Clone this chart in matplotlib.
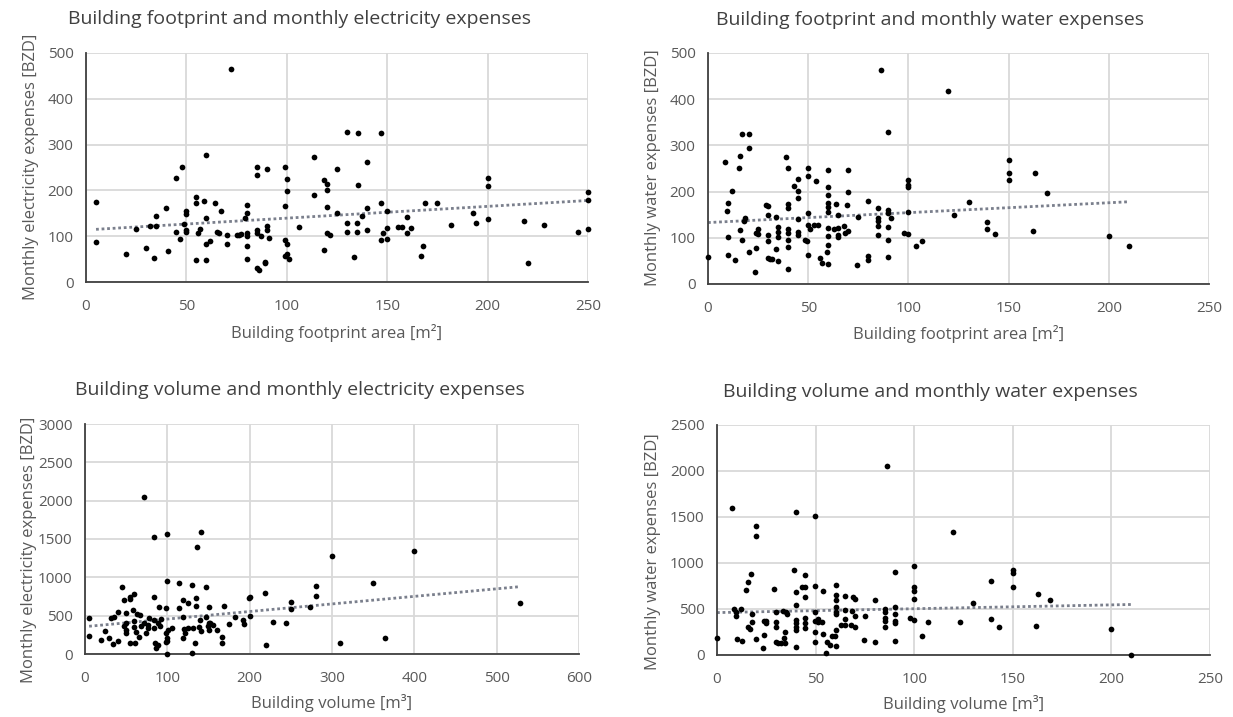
import numpy as np
import matplotlib
matplotlib.use("Agg")
import matplotlib.pyplot as plt

plt.rcParams['font.family'] = ['Open Sans', 'DejaVu Sans']

# Panel 1: footprint area vs electricity
fp_elec_x = [5, 5, 20, 25, 30, 32, 34, 35, 35, 40, 41, 45, 45, 47, 48, 49, 50, 50, 50, 50,
             55, 55, 55, 56, 57, 59, 60, 60, 60, 60, 62, 64, 65, 66, 67, 70, 70, 72, 75, 76,
             77, 79, 80, 80, 80, 80, 80, 80, 85, 85, 85, 85, 85, 86, 87, 89, 89, 90, 90, 90,
             91, 99, 99, 100, 100, 99, 100, 99, 100, 101, 106,
             113.5, 113.5, 118.5, 118.5, 120, 120, 120, 120, 121.5, 125, 125, 130, 130, 130,
             133.5, 135, 135, 135.5, 135.5, 137.5, 140, 140, 140, 147, 147, 147, 148, 150, 150,
             150, 155.5, 157.5, 160, 160, 162, 167, 168, 169, 175, 182, 192.5, 194, 200, 200,
             200, 218, 220, 228, 245, 250, 250, 250]
fp_elec_y = [175, 88, 61, 115, 75, 123, 53, 144, 123, 162, 68, 228, 110, 93, 251, 126, 155, 149, 114, 110,
             186, 172, 47, 108, 116, 177, 277, 139, 82, 47, 90, 173, 109, 106, 156, 103, 82, 464, 102, 103,
             104, 140, 168, 151, 106, 101, 79, 51, 251, 233, 113, 108, 31, 27, 100, 44, 41, 246, 122, 113,
             95, 251, 166, 225, 199, 91, 82, 57, 62, 50, 120,
             274, 191, 223, 70, 213, 201, 164, 108, 103, 246, 150, 328, 128, 110,
             55, 128, 110, 325, 212, 145, 263, 161, 114, 325, 173, 92, 108, 154, 117,
             93, 119, 120, 143, 106, 117, 57, 79, 172, 173, 124, 150, 128, 226, 210,
             137, 133, 42, 124, 110, 197, 178, 116]

# Panel 2: footprint area vs water
fp_wat_x = [0, 8.3, 9.3, 10, 10, 10, 12, 13.3, 15.3, 16, 16, 17, 17, 18, 18.3, 20.3, 20.3, 20.3, 23.4, 24,
            24, 25, 25, 29, 30, 30, 30, 30, 30, 30.7, 31.7, 34, 34, 35, 35, 35, 35, 39, 40, 40,
            40, 40, 40, 40, 40, 40, 43, 45, 45, 45, 45, 45, 45, 48.3, 49.5, 50, 50, 50, 50, 50,
            51, 53, 54, 55, 56, 57, 60, 60, 60, 60, 60, 60, 60, 60, 60, 59.5, 60, 63, 64, 65,
            65, 65, 65, 68, 68.5, 69.3, 70, 70, 70, 74.4, 75, 80, 80, 80, 85, 85, 85, 85, 85, 86.4,
            90, 90, 90, 90, 90, 90, 91.3, 98, 100, 100, 100, 100, 100, 104, 107, 120,
            123, 130, 139, 139, 143, 150, 150, 150, 162, 163, 169, 200, 210]
fp_wat_y = [58, 263, 158, 176, 101, 62, 201, 51, 252, 277, 116, 324, 95, 136, 142, 324, 294, 69, 27, 77,
            111, 120, 108, 172, 169, 149, 106, 93, 56, 54, 55, 145, 75, 49, 123, 113, 101, 274, 252, 174,
            165, 118, 111, 96, 80, 33, 212, 228, 201, 187, 140, 112, 106, 96, 93, 252, 234, 153, 128, 62,
            118, 128, 222, 128, 56, 46, 247, 211, 192, 176, 167, 156, 122, 103, 84, 70, 44, 118, 174, 150,
            107, 102, 122, 125, 111, 172, 247, 200, 114, 41, 145, 179, 60, 53, 165, 142, 137, 125, 107, 464,
            328, 161, 154, 124, 95, 58, 143, 111, 225, 214, 210, 155, 108, 82, 93, 418,
            150, 178, 135, 119, 109, 268, 241, 226, 114, 241, 198, 103, 83]

# Panel 3: volume vs electricity
vol_elec_x = [4.5, 4.5, 19.5, 24.7, 29.6, 31.6, 34, 35.3, 40, 40, 45.4, 47.5, 47.5, 50, 50, 50, 50, 54.8, 54.8, 54.8,
              60, 58, 61, 60, 60, 63, 62, 66, 67, 68.6, 71.8, 71.8, 74, 76, 77, 78, 84.4, 84.4, 84.4, 84.4,
              85, 86.4, 89, 89, 89.7, 92.9, 91, 99.4, 99.4, 98.6, 98.6, 99.4, 99.4, 98.6, 99.4, 100.6, 105.9, 114, 114, 118.9,
              118.9, 119.3, 120.5, 120.9, 125, 125, 129.8, 129.8, 131, 133, 135, 135, 136.3, 138.7, 139.6, 140.4, 140.4, 147.3, 147.3, 149.3,
              150, 150, 150, 152, 156, 160, 166.3, 166.3, 168.8, 174.4, 182, 192.3, 193, 199.2, 200.4, 200, 218.7, 220, 228.4, 244.6,
              250, 250, 273, 280, 280, 300, 309.3, 350, 364, 399.4, 528]
vol_elec_y = [470, 231, 178, 305, 213, 470, 135, 479, 170, 549, 875, 361, 710, 400, 531, 313, 279, 723, 740, 139,
              788, 570, 139, 357, 427, 518, 292, 226, 514, 361, 2046, 400, 279, 335, 379, 466, 1524, 749, 444, 335,
              139, 83, 118, 400, 610, 453, 366, 1559, 958, 601, 270, 205, 170, 152, 0, 313, 335, 923, 605, 705,
              205, 488, 322, 279, 662, 335, 906, 9, 335, 139, 627, 727, 1402, 348, 444, 1585, 305, 875, 488, 366,
              610, 313, 400, 400, 379, 313, 226, 148, 631, 396, 479, 440, 396, 727, 740, 501, 801, 118, 414, 405,
              683, 592, 618, 892, 762, 1284, 139, 927, 205, 1337, 662]

# Panel 4: volume vs water
vol_wat_x = [0, 7.8, 8.8, 9.8, 9.8, 10, 12, 12.9, 14.9, 15.7, 17.1, 15.7, 16.8, 18, 18, 20, 20, 20, 23.2, 23.7,
             23.9, 24.7, 25, 28.9, 30, 30, 30, 30, 31, 32.3, 33.5, 33.8, 34.5, 34.7, 34.9, 35.4, 39.3, 40, 40.2, 40.2,
             40.2, 40.2, 40.2, 40.2, 40, 43, 44.8, 44.8, 44.8, 44.8, 44.8, 44.8, 49.9, 49.9, 49.9, 49.9, 49.9, 49.9, 51, 51.1,
             53.1, 53.6, 53.8, 55.2, 56, 57.2, 58.4, 59.6, 60.1, 60.1, 60.1, 60.1, 60.1, 60.1, 60.1, 60.1, 62.9, 64.8, 64.8, 64.8,
             64.8, 67.9, 68.5, 69, 69.9, 69.9, 69.9, 75.1, 74.3, 80, 80, 85.1, 85.1, 85.1, 85.1, 85.1, 86.1, 90.2, 90.5, 90.5,
             90.5, 90.5, 90.2, 98.1, 99.8, 99.8, 99.8, 99.8, 99.8, 104.2, 107.1,
             119.9, 123.1, 129.7, 139, 139, 142.9, 150, 150, 150, 161.8, 163, 169.1, 199.8, 210]
vol_wat_y = [189, 1595, 501, 472, 425, 171, 501, 153, 709, 789, 879, 302, 280, 447, 356, 1406, 1290, 171, 73, 374,
             214, 374, 345, 716, 472, 363, 302, 145, 134, 134, 480, 189, 247, 134, 472, 447, 927, 687, 545, 381,
             345, 309, 272, 91, 1559, 738, 738, 872, 629, 400, 345, 291, 752, 1515, 472, 374, 247, 145, 396, 360,
             356, 698, 229, 25, 145, 109, 207, 207, 272, 756, 654, 600, 527, 472, 447, 102, 327, 636, 491, 392,
             327, 327, 480, 629, 607, 425, 302, 425, 164, 600, 145, 498, 472, 400, 371, 305, 2053, 898, 527, 447,
             374, 345, 153, 400, 963, 738, 698, 607, 381, 207, 360,
             1334, 360, 570, 803, 396, 305, 927, 890, 741, 316, 661, 596, 280, 0]

# Linear trendlines: (x_start, y_start, x_end, y_end)
trend_fp_elec = (5, 115, 250, 178)
trend_fp_wat = (0, 133, 210, 178)
trend_vol_elec = (5, 362, 528, 878)
trend_vol_wat = (0, 461, 210, 549)

titles = ["Building footprint and monthly electricity expenses",
          "Building footprint and monthly water expenses",
          "Building volume and monthly electricity expenses",
          "Building volume and monthly water expenses"]
xlabels = ["Building footprint area [m²]", "Building footprint area [m²]",
           "Building volume [m³]", "Building volume [m³]"]
ylabels = ["Monthly electricity expenses [BZD]", "Monthly water expenses [BZD]",
           "Monthly electricity expenses [BZD]", "Monthly water expenses [BZD]"]
xticks = [[0, 50, 100, 150, 200, 250], [0, 50, 100, 150, 200, 250],
          [0, 100, 200, 300, 400, 500, 600], [0, 50, 100, 150, 200, 250]]
yticks = [[0, 100, 200, 300, 400, 500], [0, 100, 200, 300, 400, 500],
          [0, 500, 1000, 1500, 2000, 2500, 3000], [0, 500, 1000, 1500, 2000, 2500]]

W, H = 1233, 717
fig = plt.figure(figsize=(W / 100, H / 100), dpi=100)

# pixel boxes: left, top, right, bottom
boxes = [(86, 53, 588, 282), (708, 53, 1209, 284), (85, 424, 579, 654), (717, 425, 1210, 655)]
title_pos = [(300, 19), (930, 20), (300, 390), (930, 392)]
xlabel_pos = [(337, 333), (959, 334), (332, 703), (964, 704)]
ylabel_pos = [(31, 167), (653, 168), (29, 550), (653, 552)]

datasets = [(fp_elec_x, fp_elec_y), (fp_wat_x, fp_wat_y),
            (vol_elec_x, vol_elec_y), (vol_wat_x, vol_wat_y)]
trends = [trend_fp_elec, trend_fp_wat, trend_vol_elec, trend_vol_wat]

txt_color = '#595959'
for i, (xs, ys) in enumerate(datasets):
    l, t, r, b = boxes[i]
    ax = fig.add_axes([l / W, 1 - b / H, (r - l) / W, (b - t) / H])
    ax.scatter(xs, ys, s=17, color='black', zorder=3, linewidths=0, clip_on=False)
    x0, y0, x1, y1 = trends[i]
    ax.plot([x0, x1], [y0, y1], linestyle=(0, (1, 1)), color='#7a7f8c', lw=2.0, zorder=2)
    ax.set_xlim(xticks[i][0], xticks[i][-1])
    ax.set_ylim(yticks[i][0], yticks[i][-1])
    ax.set_xticks(xticks[i])
    ax.set_yticks(yticks[i])
    ax.grid(True, color='#d9d9d9', lw=1.3, zorder=0)
    ax.set_axisbelow(True)
    for s in ['top', 'right']:
        ax.spines[s].set_visible(False)
    for s in ['left', 'bottom']:
        ax.spines[s].set_color('#404040')
        ax.spines[s].set_linewidth(1.3)
    ax.tick_params(axis='x', length=0, labelsize=11, labelcolor=txt_color, pad=12)
    ax.tick_params(axis='y', length=0, labelsize=11, labelcolor=txt_color, pad=9)
    fig.text(title_pos[i][0] / W, 1 - title_pos[i][1] / H, titles[i], fontsize=14,
             color='#404040', ha='center', va='center')
    fig.text(xlabel_pos[i][0] / W, 1 - xlabel_pos[i][1] / H, xlabels[i], fontsize=12,
             color=txt_color, ha='center', va='center')
    fig.text(ylabel_pos[i][0] / W, 1 - ylabel_pos[i][1] / H, ylabels[i], fontsize=12,
             color=txt_color, ha='center', va='center', rotation=90)

fig.savefig('out.png', dpi=100)
